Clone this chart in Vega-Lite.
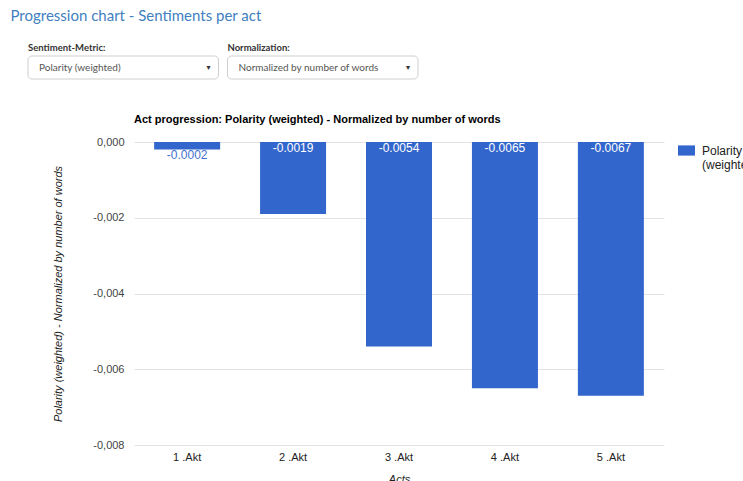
{
  "$schema": "https://vega.github.io/schema/vega-lite/v6.json",
  "background": "white",
  "padding": {"left": 10, "top": 8, "right": 0, "bottom": 0},
  "title": {
    "text": "Progression chart - Sentiments per act",
    "anchor": "start",
    "dx": -17,
    "offset": 19,
    "font": "Lato",
    "fontSize": 15,
    "fontWeight": "normal",
    "color": "#3f7fc0"
  },
  "config": {
    "view": {"stroke": null},
    "locale": {
      "number": {"decimal": ".", "thousands": ",", "grouping": [3], "currency": ["", ""], "minus": "-"}
    }
  },
  "datasets": {
    "controls": [
      {"control": "Sentiment-Metric:", "selected": "Polarity (weighted)"},
      {"control": "Normalization:", "selected": "Normalized by number of words"}
    ],
    "acts": [
      {"act": "1 .Akt", "metric": "Polarity (weighted)", "value": -0.0002},
      {"act": "2 .Akt", "metric": "Polarity (weighted)", "value": -0.0019},
      {"act": "3 .Akt", "metric": "Polarity (weighted)", "value": -0.0054},
      {"act": "4 .Akt", "metric": "Polarity (weighted)", "value": -0.0065},
      {"act": "5 .Akt", "metric": "Polarity (weighted)", "value": -0.0067}
    ]
  },
  "spacing": 34,
  "resolve": {"legend": {"color": "independent"}},
  "vconcat": [
    {
      "width": 390,
      "height": 23,
      "data": {"name": "controls"},
      "encoding": {
        "x": {
          "field": "control",
          "type": "nominal",
          "sort": null,
          "axis": null,
          "scale": {"paddingInner": 0.045, "paddingOuter": 0}
        }
      },
      "layer": [
        {
          "mark": {"type": "rect", "fill": "white", "stroke": "#cfcfcf", "strokeWidth": 1, "cornerRadius": 4, "xOffset": -106, "x2Offset": -106}
        },
        {
          "mark": {"type": "text", "align": "left", "baseline": "alphabetic", "dx": -106, "dy": -17, "font": "Lato", "fontSize": 9.5, "fontWeight": "bold", "color": "#333"},
          "encoding": {
            "x": {"field": "control", "type": "nominal", "sort": null, "bandPosition": 0},
            "text": {"field": "control"}
          }
        },
        {
          "mark": {"type": "text", "align": "left", "baseline": "middle", "dx": -95, "font": "Lato", "fontSize": 10, "color": "#555"},
          "encoding": {
            "x": {"field": "control", "type": "nominal", "sort": null, "bandPosition": 0},
            "text": {"field": "selected"}
          }
        },
        {
          "mark": {"type": "text", "align": "center", "baseline": "middle", "dx": -116, "font": "DejaVu Sans", "fontSize": 8, "color": "#333", "text": "▾"},
          "encoding": {
            "x": {"field": "control", "type": "nominal", "sort": null, "bandPosition": 1}
          }
        }
      ]
    },
    {
      "width": 530,
      "height": 303,
      "data": {"name": "acts"},
      "title": {
        "text": "Act progression: Polarity (weighted) - Normalized by number of words",
        "anchor": "start",
        "frame": "group",
        "font": "Liberation Sans",
        "fontSize": 11,
        "fontWeight": "bold",
        "color": "#000",
        "offset": 11
      },
      "encoding": {
        "x": {
          "field": "act",
          "type": "nominal",
          "sort": null,
          "scale": {"paddingInner": 0.377, "paddingOuter": 0.19},
          "axis": {
            "title": "Acts",
            "labelAngle": 0,
            "ticks": false,
            "domain": false,
            "labelPadding": 6,
            "labelFont": "Liberation Sans",
            "labelFontSize": 11,
            "labelColor": "#222",
            "titleFont": "Liberation Sans",
            "titleFontSize": 11,
            "titleFontWeight": "normal",
            "titleFontStyle": "italic",
            "titleColor": "#222",
            "titlePadding": 11
          }
        }
      },
      "layer": [
        {
          "mark": {"type": "bar"},
          "encoding": {
            "y": {
              "field": "value",
              "type": "quantitative",
              "scale": {"domain": [-0.008, 0], "nice": false, "zero": false},
              "axis": {
                "title": "Polarity (weighted) - Normalized by number of words",
                "values": [0, -0.002, -0.004, -0.006, -0.008],
                "labelExpr": "replace(format(datum.value, '.3f'), '.', ',')",
                "ticks": false,
                "domain": false,
                "gridColor": "#e3e3e3",
                "labelPadding": 10,
                "labelFont": "Liberation Sans",
                "labelFontSize": 11,
                "labelColor": "#444",
                "minExtent": 106,
                "titleFont": "Liberation Sans",
                "titleFontSize": 11,
                "titleFontWeight": "normal",
                "titleFontStyle": "italic",
                "titleColor": "#222",
                "titleAngle": 270,
                "titleAlign": "center",
                "titleBaseline": "alphabetic",
                "titleX": -73,
                "titleY": 151.5
              }
            },
            "color": {
              "field": "metric",
              "type": "nominal",
              "scale": {"range": ["#3366cc"]},
              "legend": {
                "title": null,
                "orient": "right",
                "offset": 14,
                "symbolType": "M-1,-0.6H1V0.6H-1Z",
                "symbolSize": 289,
                "symbolStrokeWidth": 0,
                "labelFont": "Liberation Sans",
                "labelFontSize": 12,
                "labelColor": "#222",
                "labelOffset": 7,
                "labelExpr": "split(datum.label, ' ')",
                "padding": 0
              }
            }
          }
        },
        {
          "mark": {"type": "rule", "color": "#8c8c8c", "strokeWidth": 1.5},
          "encoding": {"y": {"datum": 0, "type": "quantitative"}}
        },
        {
          "transform": [{"filter": "datum.value < -0.001"}],
          "mark": {"type": "text", "baseline": "top", "dy": 1, "color": "white", "font": "Liberation Sans", "fontSize": 12},
          "encoding": {
            "y": {"datum": 0, "type": "quantitative"},
            "text": {"field": "value", "type": "quantitative", "format": ".4f"}
          }
        },
        {
          "transform": [{"filter": "datum.value >= -0.001"}],
          "mark": {"type": "text", "baseline": "top", "dy": 0, "color": "#3f70d0", "font": "Liberation Sans", "fontSize": 12},
          "encoding": {
            "y": {"field": "value", "type": "quantitative"},
            "text": {"field": "value", "type": "quantitative", "format": ".4f"}
          }
        }
      ]
    }
  ]
}
